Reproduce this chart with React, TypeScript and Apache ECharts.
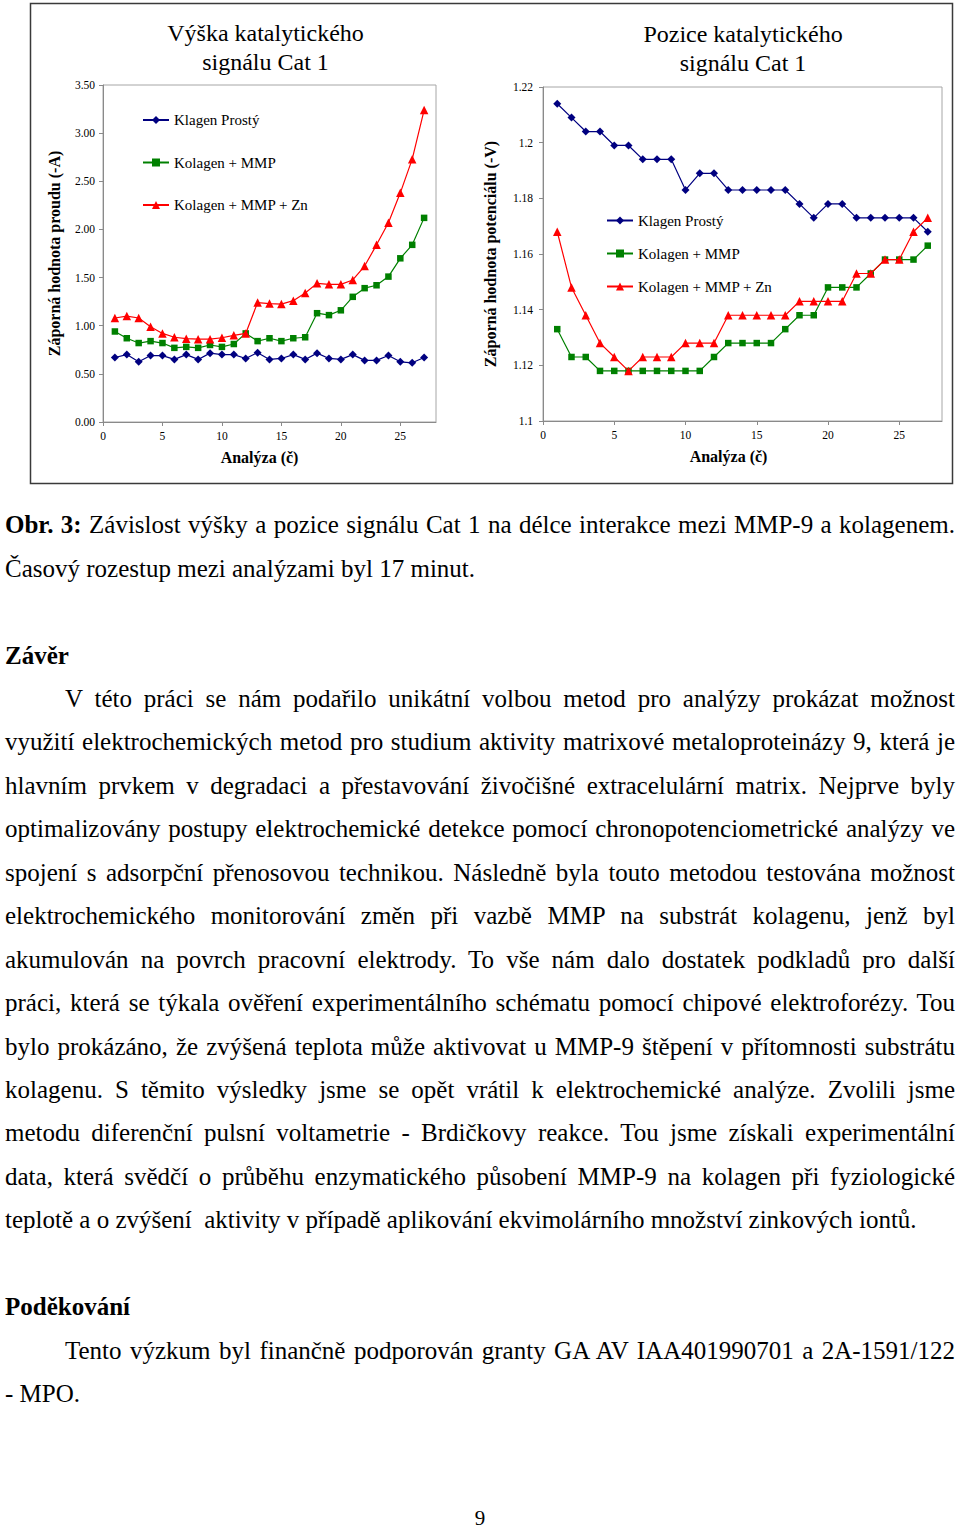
import React, { useEffect, useRef } from 'react';
import * as echarts from 'echarts';

const ANALYSES = [1, 2, 3, 4, 5, 6, 7, 8, 9, 10, 11, 12, 13, 14, 15, 16, 17, 18, 19, 20, 21, 22, 23, 24, 25, 26, 27];
const SERIES_NAMES = ['Klagen Prostý', 'Kolagen + MMP', 'Kolagen + MMP + Zn'];
const X_TICKS = [0, 5, 10, 15, 20, 25];

const CURRENT_PROSTY = [0.67, 0.70, 0.625, 0.69, 0.69, 0.65, 0.70, 0.65, 0.715, 0.70, 0.70, 0.66, 0.72, 0.65, 0.66, 0.70, 0.65, 0.715, 0.66, 0.65, 0.70, 0.64, 0.64, 0.69, 0.625, 0.615, 0.67];
const CURRENT_MMP = [0.94, 0.87, 0.82, 0.84, 0.82, 0.77, 0.78, 0.77, 0.80, 0.78, 0.81, 0.92, 0.84, 0.87, 0.84, 0.87, 0.88, 1.13, 1.11, 1.16, 1.30, 1.39, 1.42, 1.51, 1.70, 1.84, 2.12];
const CURRENT_ZN = [1.08, 1.10, 1.08, 0.99, 0.92, 0.88, 0.865, 0.86, 0.86, 0.875, 0.90, 0.92, 1.24, 1.23, 1.225, 1.26, 1.34, 1.44, 1.43, 1.43, 1.475, 1.62, 1.84, 2.07, 2.38, 2.73, 3.24];

const POTENTIAL_PROSTY = [1.214, 1.209, 1.204, 1.204, 1.199, 1.199, 1.194, 1.194, 1.194, 1.183, 1.189, 1.189, 1.183, 1.183, 1.183, 1.183, 1.183, 1.178, 1.173, 1.178, 1.178, 1.173, 1.173, 1.173, 1.173, 1.173, 1.168];
const POTENTIAL_MMP = [1.133, 1.123, 1.123, 1.118, 1.118, 1.118, 1.118, 1.118, 1.118, 1.118, 1.118, 1.123, 1.128, 1.128, 1.128, 1.128, 1.133, 1.138, 1.138, 1.148, 1.148, 1.148, 1.153, 1.158, 1.158, 1.158, 1.163];
const POTENTIAL_ZN = [1.168, 1.148, 1.138, 1.128, 1.123, 1.118, 1.123, 1.123, 1.123, 1.128, 1.128, 1.128, 1.138, 1.138, 1.138, 1.138, 1.138, 1.143, 1.143, 1.143, 1.143, 1.153, 1.153, 1.158, 1.158, 1.168, 1.173];

const FONT = 'Liberation Serif, Times New Roman, serif';
const COLORS = ['#000080', '#008000', '#ff0000'];
const SYMBOLS = ['diamond', 'rect', 'triangle'];
const SYMBOL_SIZES = [8, 6.5, 8.5];

const CAPTION_LINES = [
  'Obr. 3: Závislost výšky a pozice signálu Cat 1 na délce interakce mezi MMP-9 a kolagenem.',
  'Časový rozestup mezi analýzami byl 17 minut.',
];
const CONCLUSION_LINES = [
  'V této práci se nám podařilo unikátní volbou metod pro analýzy prokázat možnost',
  'využití elektrochemických metod pro studium aktivity matrixové metaloproteinázy 9, která je',
  'hlavním prvkem v\u00a0degradaci a přestavování živočišné extracelulární matrix. Nejprve byly',
  'optimalizovány postupy elektrochemické detekce pomocí chronopotenciometrické analýzy ve',
  'spojení s adsorpční přenosovou technikou. Následně byla touto metodou testována možnost',
  'elektrochemického monitorování změn při vazbě MMP na substrát kolagenu, jenž byl',
  'akumulován na povrch pracovní elektrody. To vše nám dalo dostatek podkladů pro další',
  'práci, která se týkala ověření experimentálního schématu pomocí chipové elektroforézy. Tou',
  'bylo prokázáno, že zvýšená teplota může aktivovat u MMP-9 štěpení v přítomnosti substrátu',
  'kolagenu. S těmito výsledky jsme se opět vrátil k\u00a0elektrochemické analýze. Zvolili jsme',
  'metodu diferenční pulsní voltametrie - Brdičkovy reakce. Tou jsme získali experimentální',
  'data, která svědčí o průběhu enzymatického působení MMP-9 na kolagen při fyziologické',
  'teplotě a o zvýšení\u00a0 aktivity v případě aplikování ekvimolárního množství zinkových iontů.',
];
const THANKS_LINES = [
  'Tento výzkum byl finančně podporován granty GA AV IAA401990701 a 2A-1591/122',
  '- MPO.',
];

function axisCommon() {
  return {
    axisLine: { show: true, onZero: false, lineStyle: { color: '#8a8a8a', width: 1 } },
    axisTick: { show: true, length: 4, inside: false, lineStyle: { color: '#8a8a8a' } },
    splitLine: { show: false },
  };
}

function xAxisFor(gridIndex: number, padRight: number) {
  return {
    type: 'value',
    gridIndex,
    min: 0,
    max: 28,
    interval: 5,
    ...axisCommon(),
    axisTick: { show: true, length: 4, lineStyle: { color: '#8a8a8a' }, customValues: X_TICKS },
    axisLabel: { customValues: X_TICKS, fontFamily: FONT, fontSize: 11.5, color: '#000', margin: 8 },
    name: 'Analýza (č)',
    nameLocation: 'middle',
    nameGap: 27,
    nameTextStyle: { fontFamily: FONT, fontSize: 16, fontWeight: 'bold', color: '#000', padding: [0, padRight, 0, 0] },
  };
}

export default function App() {
  const ref = useRef<HTMLDivElement>(null);

  useEffect(() => {
    if (!ref.current) return;
    const chart = echarts.init(ref.current, null, { renderer: 'svg' });

    const mkSeries = (arrs: number[][], axisIndex: number) =>
      arrs.map((arr, k) => ({
        name: SERIES_NAMES[k],
        type: 'line',
        xAxisIndex: axisIndex,
        yAxisIndex: axisIndex,
        data: ANALYSES.map((x, i) => [x, arr[i]]),
        symbol: SYMBOLS[k],
        symbolSize: SYMBOL_SIZES[k],
        showSymbol: true,
        color: COLORS[k],
        itemStyle: { color: COLORS[k] },
        lineStyle: { color: COLORS[k], width: 1.2 },
        z: 3 + k,
      }));

    const legendBase = {
      data: SERIES_NAMES,
      orient: 'vertical',
      itemWidth: 26,
      itemHeight: 10,
      padding: 0,
      selectedMode: false,
      textStyle: { fontFamily: FONT, fontSize: 15, color: '#000', lineHeight: 16 },
    };

    const titleStyle = { fontFamily: FONT, fontSize: 24, fontWeight: 'normal', color: '#000', lineHeight: 29 };

    chart.setOption({
      animation: false,
      backgroundColor: '#fff',
      textStyle: { fontFamily: FONT },
      title: [
        {
          text: 'Výška katalytického\nsignálu Cat 1',
          left: 265.5,
          top: 18.5,
          padding: 0,
          textAlign: 'center',
          textStyle: titleStyle,
        },
        {
          text: 'Pozice katalytického\nsignálu Cat 1',
          left: 743,
          top: 19.5,
          padding: 0,
          textAlign: 'center',
          textStyle: titleStyle,
        },
      ],
      legend: [
        { ...legendBase, left: 142, top: 112, itemGap: 26.5 },
        { ...legendBase, left: 606, top: 212.5, itemGap: 17 },
      ],
      grid: [
        { left: 103, top: 85, width: 333, height: 337, show: true, borderColor: '#a6a6a6', borderWidth: 1 },
        { left: 543, top: 87, width: 399, height: 334, show: true, borderColor: '#a6a6a6', borderWidth: 1 },
      ],
      xAxis: [xAxisFor(0, 20), xAxisFor(1, 28)],
      yAxis: [
        {
          type: 'value',
          gridIndex: 0,
          min: 0,
          max: 3.5,
          interval: 0.5,
          ...axisCommon(),
          axisLabel: {
            fontFamily: FONT,
            fontSize: 11.5,
            color: '#000',
            margin: 8,
            formatter: (v: number) => v.toFixed(2),
          },
          name: 'Záporná hodnota proudu (-A)',
          nameLocation: 'middle',
          nameGap: 41,
          nameTextStyle: { fontFamily: FONT, fontSize: 16, fontWeight: 'bold', color: '#000' },
        },
        {
          type: 'value',
          gridIndex: 1,
          min: 1.1,
          max: 1.22,
          interval: 0.02,
          ...axisCommon(),
          axisLabel: {
            fontFamily: FONT,
            fontSize: 11.5,
            color: '#000',
            margin: 10,
            formatter: (v: number) => String(parseFloat(v.toFixed(2))),
          },
          name: 'Záporná hodnota potenciálu (-V)',
          nameLocation: 'middle',
          nameGap: 45,
          nameTextStyle: { fontFamily: FONT, fontSize: 16, fontWeight: 'bold', color: '#000' },
        },
      ],
      graphic: [
        {
          type: 'rect',
          shape: { x: 30.5, y: 3.5, width: 922, height: 480 },
          style: { fill: 'none', stroke: '#3a3a3a', lineWidth: 1.5 },
          silent: true,
          z: -1,
        },
      ],
      series: [
        ...mkSeries([CURRENT_PROSTY, CURRENT_MMP, CURRENT_ZN], 0),
        ...mkSeries([POTENTIAL_PROSTY, POTENTIAL_MMP, POTENTIAL_ZN], 1),
      ],
    });

    return () => chart.dispose();
  }, []);

  const lineStyle = (justify: boolean, indent: boolean): React.CSSProperties => ({
    textAlign: justify ? 'justify' : 'left',
    textAlignLast: justify ? 'justify' : 'left',
    textIndent: indent ? 60 : 0,
    height: 43.45,
    overflow: 'visible',
  });

  return (
    <div style={{ position: 'absolute', left: 0, top: 0, width: 960, height: 1529, background: '#fff' }}>
      <div ref={ref} style={{ position: 'absolute', left: 0, top: 0, width: 960, height: 490 }} />
      <div
        style={{
          position: 'absolute',
          left: 5,
          top: 503.3,
          width: 950,
          fontFamily: FONT,
          fontSize: 25,
          lineHeight: '43.45px',
          color: '#000',
        }}
      >
        <div style={lineStyle(true, false)}>
          <b>Obr. 3:</b>
          {CAPTION_LINES[0].slice(7)}
        </div>
        <div style={lineStyle(false, false)}>{CAPTION_LINES[1]}</div>
        <div style={{ height: 43.45 }} />
        <div style={{ ...lineStyle(false, false), fontWeight: 'bold' }}>Závěr</div>
        {CONCLUSION_LINES.map((t, i) => (
          <div key={i} style={lineStyle(i < CONCLUSION_LINES.length - 1, i === 0)}>
            {t}
          </div>
        ))}
        <div style={{ height: 43.45 }} />
        <div style={{ ...lineStyle(false, false), fontWeight: 'bold' }}>Poděkování</div>
        <div style={lineStyle(true, true)}>{THANKS_LINES[0]}</div>
        <div style={lineStyle(false, false)}>{THANKS_LINES[1]}</div>
      </div>
      <div
        style={{
          position: 'absolute',
          left: 0,
          top: 1504,
          width: 960,
          textAlign: 'center',
          fontFamily: FONT,
          fontSize: 21,
          lineHeight: '28px',
          color: '#000',
        }}
      >
        9
      </div>
    </div>
  );
}
